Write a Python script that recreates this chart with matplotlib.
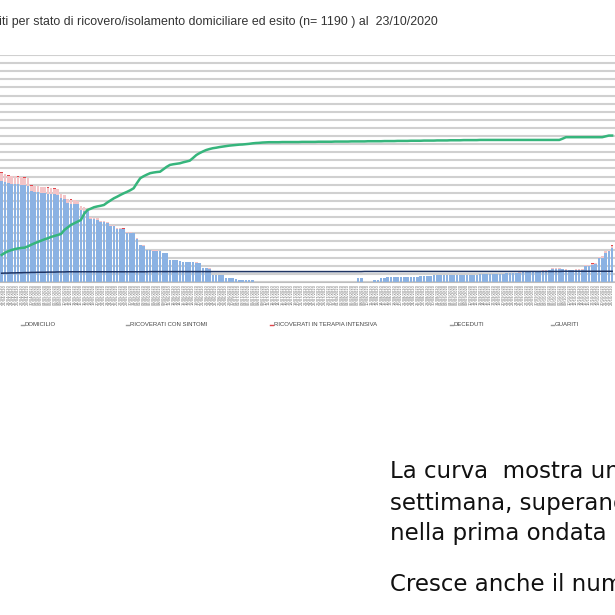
import matplotlib
matplotlib.use('Agg')
import matplotlib.pyplot as plt
import numpy as np
import pandas as pd
from matplotlib.lines import Line2D

# daily counts, 21/04/2020 -> 23/10/2020
DATES = pd.date_range('2020-04-21', '2020-10-23', freq='D')
DATE_LABELS = [d.strftime('%d/%m/%Y') for d in DATES]

DOMICILIO = [
    625, 617, 609, 607, 604, 602, 600, 597, 595, 560, 556, 554, 551, 546, 544, 543, 540, 538, 515, 510,
    488, 484, 481, 478, 444, 440, 436, 390, 387, 384, 369, 367, 364, 347, 344, 329, 327, 325, 305, 303,
    299, 268, 228, 224, 196, 195, 194, 193, 190, 178, 176, 136, 134, 133, 131, 124, 123, 122, 121, 120,
    118, 88, 85, 83, 46, 44, 42, 40, 26, 25, 24, 16, 15, 15, 14, 13, 12, 0, 0, 0,
    0, 0, 0, 0, 0, 0, 0, 0, 0, 0, 0, 0, 0, 0, 0, 0, 0, 0, 0, 0,
    0, 0, 0, 0, 0, 0, 0, 0, 26, 26, 0, 0, 0, 12, 12, 22, 24, 30, 30, 31,
    31, 32, 32, 32, 33, 33, 33, 34, 34, 34, 35, 40, 41, 42, 42, 43, 43, 44, 44, 44,
    45, 45, 45, 46, 46, 47, 47, 50, 50, 51, 51, 52, 52, 53, 53, 54, 54, 58, 59, 60,
    60, 61, 61, 62, 68, 70, 72, 79, 80, 79, 77, 73, 71, 71, 72, 73, 75, 97, 99, 107,
    109, 146, 150, 180, 188, 212,
]

RICOVERATI = [
    50, 49, 45, 45, 47, 46, 45, 47, 45, 34, 34, 35, 34, 37, 37, 36, 36, 34, 25, 25,
    23, 23, 22, 21, 23, 23, 21, 10, 8, 8, 6, 6, 5, 5, 5, 4, 4, 4, 4, 4,
    4, 3, 2, 2, 2, 2, 2, 2, 2, 2, 2, 1, 1, 1, 1, 1, 1, 1, 1, 1,
    1, 1, 1, 1, 0, 0, 0, 0, 0, 0, 0, 0, 0, 0, 0, 0, 0, 0, 0, 0,
    0, 0, 0, 0, 0, 0, 0, 0, 0, 0, 0, 0, 0, 0, 0, 0, 0, 0, 0, 0,
    0, 0, 0, 0, 0, 0, 0, 0, 0, 0, 0, 0, 0, 0, 0, 0, 0, 0, 0, 0,
    0, 0, 0, 0, 0, 0, 0, 0, 0, 0, 0, 0, 0, 0, 0, 0, 0, 0, 0, 0,
    0, 0, 0, 0, 0, 0, 0, 0, 0, 0, 0, 0, 0, 0, 0, 0, 0, 2, 2, 2,
    2, 2, 2, 2, 4, 4, 4, 5, 5, 5, 5, 5, 5, 5, 5, 5, 5, 6, 6, 6,
    6, 8, 8, 10, 10, 10,
]

TERAPIA_INTENSIVA = [
    3, 3, 3, 3, 3, 3, 3, 3, 3, 3, 3, 3, 3, 3, 3, 3, 3, 3, 2, 2,
    2, 2, 2, 2, 2, 2, 2, 2, 2, 2, 1, 1, 1, 1, 1, 1, 1, 1, 1, 1,
    1, 0, 0, 0, 0, 0, 0, 0, 0, 0, 0, 0, 0, 0, 0, 0, 0, 0, 0, 0,
    0, 0, 0, 0, 0, 0, 0, 0, 0, 0, 0, 0, 0, 0, 0, 0, 0, 0, 0, 0,
    0, 0, 0, 0, 0, 0, 0, 0, 0, 0, 0, 0, 0, 0, 0, 0, 0, 0, 0, 0,
    0, 0, 0, 0, 0, 0, 0, 0, 0, 0, 0, 0, 0, 0, 0, 0, 0, 0, 0, 0,
    0, 0, 0, 0, 0, 0, 0, 0, 0, 0, 0, 0, 0, 0, 0, 0, 0, 0, 0, 0,
    0, 0, 0, 0, 0, 0, 0, 0, 0, 0, 0, 0, 0, 0, 0, 0, 0, 0, 0, 0,
    0, 0, 0, 0, 0, 0, 0, 0, 0, 0, 0, 0, 0, 0, 0, 0, 0, 1, 1, 1,
    1, 2, 2, 2, 2, 3,
]

DECEDUTI = [
    54, 55, 55, 56, 56, 57, 57, 58, 58, 59, 59, 60, 60, 60, 61, 61, 61, 62, 62, 62,
    63, 63, 63, 63, 63, 63, 63, 63, 63, 63, 63, 63, 63, 63, 63, 63, 63, 63, 63, 63,
    63, 63, 63, 63, 63, 64, 64, 64, 64, 64, 64, 64, 64, 64, 64, 64, 64, 64, 64, 64,
    64, 64, 64, 64, 64, 64, 64, 64, 64, 64, 64, 64, 64, 64, 64, 64, 64, 64, 64, 64,
    64, 64, 64, 64, 64, 64, 64, 64, 64, 64, 64, 64, 64, 64, 64, 64, 64, 64, 64, 64,
    64, 64, 64, 64, 64, 64, 64, 64, 64, 64, 65, 65, 65, 65, 65, 65, 65, 65, 65, 65,
    65, 65, 65, 65, 65, 65, 65, 65, 65, 65, 65, 65, 65, 65, 65, 65, 65, 65, 65, 65,
    65, 65, 65, 65, 65, 65, 65, 65, 65, 65, 65, 65, 65, 65, 65, 65, 65, 65, 65, 65,
    65, 65, 65, 65, 65, 65, 65, 65, 65, 65, 66, 66, 66, 66, 66, 66, 66, 66, 66, 66,
    66, 66, 66, 66, 66, 66,
]

GUARITI = [
    167, 180, 190, 197, 203, 207, 210, 212, 220, 230, 239, 247, 255, 263, 270, 278, 284, 290, 296, 321,
    336, 352, 362, 372, 382, 420, 444, 452, 461, 466, 470, 475, 490, 503, 516, 526, 537, 547, 556, 566,
    578, 610, 640, 652, 662, 671, 675, 678, 680, 695, 710, 722, 726, 729, 732, 738, 743, 748, 765, 783,
    795, 805, 814, 820, 825, 828, 832, 835, 838, 841, 843, 845, 847, 848, 850, 852, 855, 857, 858, 860,
    861, 862, 862, 862, 862, 863, 863, 863, 863, 863, 863, 864, 864, 864, 864, 864, 865, 865, 865, 865,
    865, 866, 866, 866, 866, 866, 867, 867, 867, 867, 867, 868, 868, 868, 868, 868, 869, 869, 869, 869,
    870, 870, 870, 870, 871, 871, 871, 871, 872, 872, 872, 872, 873, 873, 873, 873, 874, 874, 874, 874,
    875, 875, 875, 875, 875, 876, 876, 876, 876, 876, 876, 876, 876, 876, 876, 876, 876, 876, 876, 876,
    876, 876, 876, 876, 876, 876, 876, 876, 876, 876, 884, 893, 893, 893, 893, 893, 893, 893, 893, 893,
    893, 893, 893, 898, 903, 903,
]

LEGEND_LABELS = ['DOMICILIO', 'RICOVERATI CON SINTOMI', 'RICOVERATI IN TERAPIA INTENSIVA',
                 'DECEDUTI', 'GUARITI']

TITLE = 'iti per stato di ricovero/isolamento domiciliare ed esito (n= 1190 ) al  23/10/2020'
NOTE_LINES = ['La curva  mostra un',
              'settimana, superando',
              'nella prima ondata',
              'Cresce anche il numero']

c_dom = '#8bb2e3'
c_ric = '#f3c4c7'
c_ti = '#e0474c'
c_dec = '#1f3463'
c_gua = '#36b57c'

plt.rcParams['font.family'] = ['Liberation Sans', 'DejaVu Sans']

fig = plt.figure(figsize=(6.15, 6.15), dpi=100)
ax = fig.add_axes([0.0, 0.5415, 1.0034, 0.3691])

x = np.arange(len(DATES))
dom = np.array(DOMICILIO)
ric = np.array(RICOVERATI)
ti = np.array(TERAPIA_INTENSIVA)

ax.bar(x, dom, width=0.8, color=c_dom, zorder=2)
ax.bar(x, ric, bottom=dom, width=0.8, color=c_ric, zorder=2)
ax.bar(x, ti, bottom=dom + ric, width=0.8, color=c_ti, zorder=2)
ax.plot(x, DECEDUTI, color=c_dec, linewidth=1.1, zorder=3)
ax.plot(x, GUARITI, color=c_gua, linewidth=1.8, zorder=3)

ax.set_xlim(-0.5, len(DATES) + 0.5)
ax.set_ylim(0, 1400)
ax.set_yticks(np.arange(0, 1401, 50))
ax.yaxis.grid(True, color='#d0d0d0', linewidth=1.5, zorder=0)
ax.set_axisbelow(True)
ax.tick_params(axis='y', length=0, labelleft=False)
ax.set_xticks(x)
ax.set_xticklabels(DATE_LABELS, rotation=90, fontsize=2.6, color='#666666',
                   family='DejaVu Sans')
ax.tick_params(axis='x', length=0, pad=1.5)
for s in ['top', 'left', 'right']:
    ax.spines[s].set_visible(False)
ax.spines['bottom'].set_color('#bdbdbd')
ax.spines['bottom'].set_linewidth(0.8)

# title (cropped on the left in the original slide)
fig.text(-0.002, 1 - 21.5 / 615, TITLE, fontsize=8.9, color='#333333', va='center', ha='left')

# legend row
leg_x = [22, 127, 271, 451, 552]
leg_c = ['#9a9a9a', '#9a9a9a', c_ti, '#9a9a9a', '#9a9a9a']
ly = 1 - 325 / 615
for px, lab, col in zip(leg_x, LEGEND_LABELS, leg_c):
    fig.add_artist(Line2D([(px - 1) / 615, (px + 2) / 615], [ly, ly], color=col,
                          linewidth=1.0, transform=fig.transFigure))
    fig.text((px + 2.5) / 615, ly, lab, fontsize=4.3, color='#444444', va='center', ha='left')

# slide text
baselines = [478, 510, 540, 591]
for line, yb in zip(NOTE_LINES, baselines):
    fig.text(390 / 615, 1 - yb / 615, line, fontsize=16.5, color='#111111',
             va='baseline', ha='left', family='DejaVu Sans')

fig.savefig('out.png', dpi=100)
